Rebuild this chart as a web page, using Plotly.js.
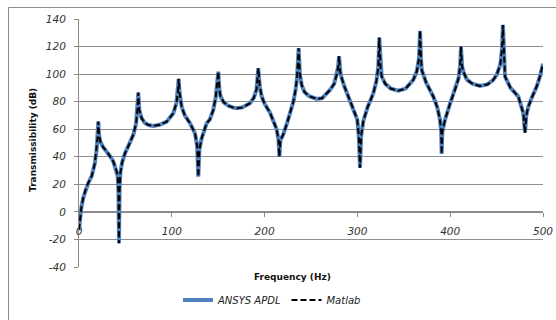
<!DOCTYPE html>
<html>
<head>
<meta charset="utf-8">
<script src="https://cdn.plot.ly/plotly-3.0.1.min.js"></script>
<style>html,body{margin:0;padding:0;background:#fff;}#chart{width:556px;height:320px;}</style>
</head>
<body>
<div id="chart"></div>
<script>
// Frequency (Hz)
const freq = [0,1,2.5,4.5,7,10,13.7,17,19,20.2,20.8,21.6,23,26,30,34,37,40,41.7,42.5,43.1,43.7,44.5,46.5,49.6,54,58.5,61.5,63,63.9,65,67.5,71,75,80,87,94.5,101.6,105,106.6,107.4,108.3,110.6,114,119.6,125,127.3,128.6,129.7,132.2,137.6,141,144.7,147.3,148.4,150.1,151.3,152.5,156,161,166.3,170,176,184.3,188.5,191.3,193.2,194.8,196.9,200,205.8,210,213,215,215.9,217,220,224,227.4,231,233.5,235,236.7,238,240,243,248,256.1,262,270.5,275,277.7,279.2,280.2,281.2,282,286,292,296,299.9,301.5,302.8,304,306.4,311,317.1,320.5,322.5,323.6,325,326.2,330,336,344,352,360.2,364,366.5,367.5,368.5,369.3,374,381.8,386,389,390.3,390.8,391.5,394.4,400,405.2,409,410.7,411.6,412.8,414.1,418,424,432,440,446,450.1,454,455.8,456.8,457.8,459.1,465,473.4,478.8,480.6,482,484.2,488,493.2,497,500];
// Transmissibility (dB) - ANSYS APDL
const ansys = [-13,-5,3,10,16,21,26,35,45,55,65.5,56,51,47,43.8,40,36.5,31,26,15,-22.7,15,28,36,42.6,49,56,64,74,86.6,74,68,64.5,63,62.4,63.2,65.5,71.6,79,87,96.5,87,76.4,70,64.4,57,48,25.5,45,53.5,64.4,67,74,83,90,101.8,89,83.7,79.5,77,75.7,75.2,75.8,78.9,83,89,104.3,91,83.7,78.5,72,65.5,60,52,40,52,56,64,71.6,80,89,98,118.8,100,92,87,84,82,82.5,88.5,93,99.4,105,113,103,99.4,91,81.3,74,66.8,55,32,55,66,76,86,95,105,126.5,104,98.2,93,89.5,88,89.5,95.8,102,112,131.5,112,103,94,83.7,76,67,58,42,58,66.8,79,88.5,97,106,120,106,101.8,96,93,91.4,92.5,95.5,99.4,107,118,135.7,118,98.2,90,83.7,71.6,57.5,70,76.4,83,91,99,107.5];
// Transmissibility (dB) - Matlab
const matlab = ansys.slice();

const seriesNames = ["ANSYS APDL", "Matlab"];
const yTicks = [-40,-20,0,20,40,60,80,100,120,140];
const xTicks = [0,100,200,300,400,500];

const W = 556, H = 320, mL = 79, mR = 13, mT = 19, mB = 53;
const pw = W - mL - mR, ph = H - mT - mB;
const px = v => (v - mL) / pw;          // pixel x -> paper x
const py = v => (H - mB - v) / ph;      // pixel y -> paper y

const tickFont = {family: "DejaVu Sans", size: 10.5, color: "#333", style: "italic"};

const traces = [
  {x: freq, y: ansys, name: seriesNames[0], type: "scatter", mode: "lines",
   line: {color: "#4F81BD", width: 4}},
  {x: freq, y: matlab, name: seriesNames[1], type: "scatter", mode: "lines",
   line: {color: "#000000", width: 2, dash: "6px,3px"}}
];

const layout = {
  width: W, height: H,
  margin: {l: mL, r: mR, t: mT, b: mB, pad: 0, autoexpand: false},
  paper_bgcolor: "#fff", plot_bgcolor: "#fff",
  showlegend: true,
  legend: {orientation: "h", x: px(272), y: py(300), xanchor: "center", yanchor: "middle",
           font: {family: "DejaVu Sans", size: 10, color: "#222", style: "italic"},
           bgcolor: "rgba(0,0,0,0)", itemwidth: 30, tracegroupgap: 0},
  xaxis: {range: [0, 500], tickvals: xTicks, ticktext: xTicks.map(String),
          anchor: "free", position: 40/180, showline: true, linecolor: "#888", linewidth: 1,
          ticks: "outside", ticklen: 4, tickcolor: "#888", showgrid: false, zeroline: false,
          tickfont: tickFont, ticklabelstandoff: 6, layer: "below traces"},
  yaxis: {range: [-40, 140], tickvals: yTicks, ticktext: yTicks.map(String),
          showline: true, linecolor: "#888", linewidth: 1,
          ticks: "outside", ticklen: 4, tickcolor: "#888",
          showgrid: true, gridcolor: "#8f8f8f", gridwidth: 1, zeroline: false,
          tickfont: tickFont, ticklabelstandoff: 6, layer: "below traces"},
  annotations: [
    {text: "<b>Frequency (Hz)</b>", xref: "paper", yref: "paper", x: px(292), y: py(277),
     xanchor: "center", yanchor: "middle", showarrow: false,
     font: {family: "DejaVu Sans", size: 9, color: "#111"}},
    {text: "<b>Transmissibility (dB)</b>", xref: "paper", yref: "paper", x: px(33), y: py(140),
     xanchor: "center", yanchor: "middle", showarrow: false, textangle: -90,
     font: {family: "DejaVu Sans", size: 9, color: "#111"}}
  ],
  shapes: [
    {type: "line", xref: "paper", yref: "paper", x0: px(8.5), x1: px(8.5), y0: py(7.5), y1: py(330),
     line: {color: "#8c8c8c", width: 1}},
    {type: "line", xref: "paper", yref: "paper", x0: px(8.5), x1: px(570), y0: py(7.5), y1: py(7.5),
     line: {color: "#8c8c8c", width: 1}}
  ]
};

Plotly.newPlot("chart", traces, layout, {displayModeBar: false, staticPlot: true});
</script>
</body>
</html>
